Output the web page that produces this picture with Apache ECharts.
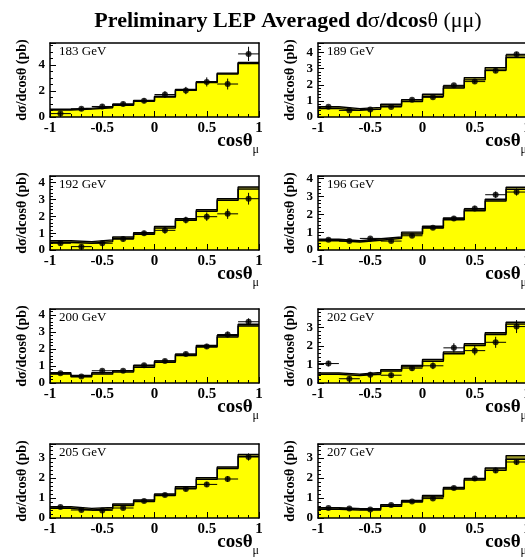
<!DOCTYPE html>
<html><head><meta charset="utf-8">
<script src="https://cdn.jsdelivr.net/npm/echarts@6/dist/echarts.min.js"></script>
<style>html,body{margin:0;padding:0;background:#fff}#c{width:525px;height:560px}</style>
</head><body><div id="c"></div>
<script>
// ---- data ----
const binEdges   = [-1, -0.8, -0.6, -0.4, -0.2, 0, 0.2, 0.4, 0.6, 0.8, 1];
const binCenters = [-0.9, -0.7, -0.5, -0.3, -0.1, 0.1, 0.3, 0.5, 0.7, 0.9];
const xTickLabels = [-1, -0.5, 0, 0.5, 1];
const energies = ['183 GeV', '189 GeV', '192 GeV', '196 GeV', '200 GeV', '202 GeV', '205 GeV', '207 GeV'];
const yMax      = [5.7, 4.6, 4.4, 4.15, 4.35, 4.0, 3.7, 3.7];
const yTickStep = [2, 1, 1, 1, 1, 1, 1, 1];

// measured points (pb) and errors
const meas183 = [0.26, 0.63, 0.81, 1.00, 1.25, 1.73, 2.04, 2.70, 2.54, 4.86];
const err183  = [0.15, 0.15, 0.17, 0.18, 0.20, 0.25, 0.28, 0.35, 0.42, 0.55];
const meas189 = [0.64, 0.41, 0.47, 0.62, 1.08, 1.22, 1.97, 2.20, 2.88, 3.90];
const err189  = [0.07, 0.06, 0.06, 0.07, 0.08, 0.09, 0.10, 0.12, 0.13, 0.15];
const meas192 = [0.40, 0.20, 0.40, 0.65, 1.00, 1.17, 1.78, 1.98, 2.15, 3.05];
const err192  = [0.12, 0.12, 0.15, 0.15, 0.15, 0.20, 0.20, 0.25, 0.30, 0.35];
const meas196 = [0.58, 0.50, 0.65, 0.50, 0.80, 1.25, 1.77, 2.33, 3.10, 3.25];
const err196  = [0.07, 0.07, 0.08, 0.08, 0.10, 0.10, 0.12, 0.15, 0.18, 0.20];
const meas200 = [0.57, 0.38, 0.72, 0.72, 1.05, 1.30, 1.70, 2.15, 2.85, 3.60];
const err200  = [0.08, 0.08, 0.09, 0.09, 0.10, 0.11, 0.13, 0.15, 0.17, 0.20];
const meas202 = [1.05, 0.23, 0.45, 0.42, 0.80, 0.93, 1.90, 1.75, 2.20, 3.05];
const err202  = [0.15, 0.12, 0.15, 0.15, 0.15, 0.18, 0.25, 0.25, 0.30, 0.35];
const meas205 = [0.55, 0.40, 0.38, 0.50, 0.85, 1.15, 1.45, 1.68, 1.95, 3.05];
const err205  = [0.07, 0.07, 0.08, 0.08, 0.09, 0.10, 0.11, 0.13, 0.15, 0.18];
const meas207 = [0.50, 0.48, 0.42, 0.65, 0.82, 0.97, 1.50, 1.97, 2.38, 2.80];
const err207  = [0.06, 0.06, 0.06, 0.07, 0.08, 0.09, 0.10, 0.11, 0.13, 0.15];

// SM prediction band (upper / lower edge), per bin
const predHi183 = [0.60, 0.68, 0.78, 0.98, 1.28, 1.60, 2.12, 2.72, 3.38, 4.20];
const predLo183 = [0.53, 0.61, 0.71, 0.91, 1.21, 1.53, 2.05, 2.65, 3.31, 4.12];
const predHi189 = [0.64, 0.52, 0.60, 0.79, 1.08, 1.41, 1.93, 2.45, 3.07, 3.86];
const predLo189 = [0.52, 0.41, 0.49, 0.67, 0.96, 1.28, 1.80, 2.31, 2.91, 3.70];
const predHi192 = [0.55, 0.50, 0.60, 0.77, 1.03, 1.40, 1.86, 2.40, 3.05, 3.75];
const predLo192 = [0.45, 0.40, 0.50, 0.67, 0.93, 1.30, 1.76, 2.30, 2.95, 3.62];
const predHi196 = [0.60, 0.52, 0.63, 0.73, 1.00, 1.33, 1.80, 2.30, 2.85, 3.52];
const predLo196 = [0.52, 0.45, 0.55, 0.65, 0.90, 1.23, 1.70, 2.20, 2.75, 3.40];
const predHi200 = [0.60, 0.45, 0.60, 0.72, 1.03, 1.30, 1.70, 2.20, 2.80, 3.45];
const predLo200 = [0.52, 0.37, 0.52, 0.64, 0.93, 1.22, 1.62, 2.12, 2.70, 3.35];
const predHi202 = [0.55, 0.48, 0.57, 0.72, 0.95, 1.27, 1.68, 2.12, 2.72, 3.28];
const predLo202 = [0.47, 0.40, 0.49, 0.64, 0.87, 1.17, 1.58, 2.02, 2.62, 3.18];
const predHi205 = [0.56, 0.48, 0.53, 0.70, 0.90, 1.20, 1.57, 2.02, 2.55, 3.18];
const predLo205 = [0.48, 0.40, 0.45, 0.62, 0.82, 1.12, 1.49, 1.94, 2.47, 3.08];
const predHi207 = [0.52, 0.47, 0.47, 0.66, 0.88, 1.13, 1.53, 1.98, 2.50, 3.12];
const predLo207 = [0.44, 0.40, 0.40, 0.58, 0.80, 1.05, 1.45, 1.90, 2.38, 2.94];

const measAll = [meas183, meas189, meas192, meas196, meas200, meas202, meas205, meas207];
const errAll  = [err183, err189, err192, err196, err200, err202, err205, err207];
const hiAll   = [predHi183, predHi189, predHi192, predHi196, predHi200, predHi202, predHi205, predHi207];
const loAll   = [predLo183, predLo189, predLo192, predLo196, predLo200, predLo202, predLo205, predLo207];

// ---- layout ----
const FONT = 'Liberation Serif';
const colLeft = [50, 318];
const rowTop = [43, 176, 309, 444];
const plotW = 209, plotH = 74;
const halfBin = (binEdges[1] - binEdges[0]) / 2;

const grids = [], xAxes = [], yAxes = [], series = [];
const titles = [{
  text: '{b|Preliminary LEP Averaged d}{n|σ}{b|/dcos}{n|θ}{n| (μμ)}',
  left: 288, top: 10, textAlign: 'center', padding: 0,
  textStyle: { rich: {
    b: { fontFamily: FONT, fontSize: 22, fontWeight: 'bold', color: '#000' },
    n: { fontFamily: FONT, fontSize: 22, fontWeight: 'normal', color: '#000' }
  } }
}];

function stepData(vals) {
  return binEdges.map((e, k) => [e, vals[Math.min(k, vals.length - 1)]]);
}

for (let i = 0; i < 8; i++) {
  const col = i % 2, row = Math.floor(i / 2);
  const L = colLeft[col], T = rowTop[row];
  grids.push({ left: L, top: T, width: plotW, height: plotH, outerBoundsMode: 'none', containLabel: false });
  titles.push({ text: energies[i], left: L + 9, top: T + 2, padding: 0,
    textStyle: { fontFamily: FONT, fontSize: 13, fontWeight: 'normal', color: '#000' } });

  // bottom x axis
  xAxes.push({
    type: 'value', gridIndex: i, min: -1, max: 1, interval: 0.5, position: 'bottom', z: 5,
    axisLine: { show: true, onZero: false, lineStyle: { color: '#000', width: 1.5 } },
    axisTick: { show: true, inside: true, length: 6, lineStyle: { color: '#000', width: 1 } },
    minorTick: { show: true, splitNumber: 5, length: 3, lineStyle: { color: '#000', width: 1 } },
    splitLine: { show: false }, minorSplitLine: { show: false },
    axisLabel: { show: true, margin: 4, fontFamily: FONT, fontSize: 15, fontWeight: 'bold', color: '#000',
      customValues: xTickLabels, formatter: v => String(v) },
    name: '{a|cos}{a|θ}{b|μ}', nameLocation: 'end', nameGap: 0, nameMoveOverlap: false,
    nameTextStyle: { align: 'right', verticalAlign: 'top', padding: [15, 0, 0, 0],
      rich: {
        a: { fontFamily: FONT, fontSize: 19, fontWeight: 'bold', color: '#000', verticalAlign: 'top', lineHeight: 19 },
        b: { fontFamily: FONT, fontSize: 12, fontWeight: 'normal', color: '#000', verticalAlign: 'top', padding: [12, 0, 0, 0], lineHeight: 12 }
      } }
  });
  // top frame
  xAxes.push({
    type: 'value', gridIndex: i, min: -1, max: 1, position: 'top', z: 5,
    axisLine: { show: true, onZero: false, lineStyle: { color: '#000', width: 1.5 } },
    axisTick: { show: false }, axisLabel: { show: false }, splitLine: { show: false }
  });
  // left y axis
  yAxes.push({
    type: 'value', gridIndex: i, min: 0, max: yMax[i], interval: yTickStep[i], position: 'left', z: 5,
    axisLine: { show: true, onZero: false, lineStyle: { color: '#000', width: 1.5 } },
    axisTick: { show: true, inside: true, length: 6, lineStyle: { color: '#000', width: 1 } },
    minorTick: { show: true, splitNumber: yTickStep[i] === 2 ? 4 : 5, length: 3, lineStyle: { color: '#000', width: 1 } },
    splitLine: { show: false }, minorSplitLine: { show: false },
    axisLabel: { show: true, margin: 5, showMaxLabel: false, fontFamily: FONT, fontSize: 13, fontWeight: 'bold', color: '#000' },
    name: 'dσ/dcosθ (pb)', nameLocation: 'middle', nameGap: 21, nameMoveOverlap: false,
    nameTextStyle: { fontFamily: FONT, fontSize: 14, fontWeight: 'bold', color: '#000' }
  });
  // right frame
  yAxes.push({
    type: 'value', gridIndex: i, min: 0, max: yMax[i], position: 'right', z: 5,
    axisLine: { show: true, onZero: false, lineStyle: { color: '#000', width: 1.5 } },
    axisTick: { show: false }, axisLabel: { show: false }, splitLine: { show: false }
  });

  const xi = 2 * i, yi = 2 * i;
  series.push({
    type: 'line', xAxisIndex: xi, yAxisIndex: yi, step: 'end', symbol: 'none', silent: true,
    data: stepData(hiAll[i]),
    lineStyle: { color: '#000', width: 1.4 }, areaStyle: { color: '#9c9a2c', opacity: 1 }, z: 2
  });
  series.push({
    type: 'line', xAxisIndex: xi, yAxisIndex: yi, step: 'end', symbol: 'none', silent: true,
    data: stepData(loAll[i]),
    lineStyle: { color: '#000', width: 1.4 }, areaStyle: { color: '#ffff00', opacity: 1 }, z: 2
  });
  series.push({
    type: 'custom', xAxisIndex: xi, yAxisIndex: yi, z: 3, silent: true,
    data: binCenters.map((c, k) => [c, measAll[i][k], errAll[i][k]]),
    encode: { x: 0, y: 1 },
    renderItem: (params, api) => {
      const x = api.value(0), y = api.value(1), e = api.value(2);
      const pL = api.coord([x - halfBin, y]), pR = api.coord([x + halfBin, y]);
      const pT = api.coord([x, y + e]), pB = api.coord([x, y - e]);
      return { type: 'group', children: [
        { type: 'line', shape: { x1: pL[0], y1: pL[1], x2: pR[0], y2: pR[1] }, style: { stroke: '#000', lineWidth: 1 } },
        { type: 'line', shape: { x1: pT[0], y1: pT[1], x2: pB[0], y2: pB[1] }, style: { stroke: '#000', lineWidth: 1 } }
      ] };
    }
  });
  series.push({
    type: 'scatter', xAxisIndex: xi, yAxisIndex: yi, z: 4, silent: true,
    symbol: 'circle', symbolSize: 6, itemStyle: { color: '#000' },
    data: binCenters.map((c, k) => [c, measAll[i][k]])
  });
}

const chart = echarts.init(document.getElementById('c'), null, { renderer: 'canvas' });
chart.setOption({
  animation: false,
  backgroundColor: '#fff',
  title: titles,
  grid: grids,
  xAxis: xAxes,
  yAxis: yAxes,
  series: series
});
</script>
</body></html>
